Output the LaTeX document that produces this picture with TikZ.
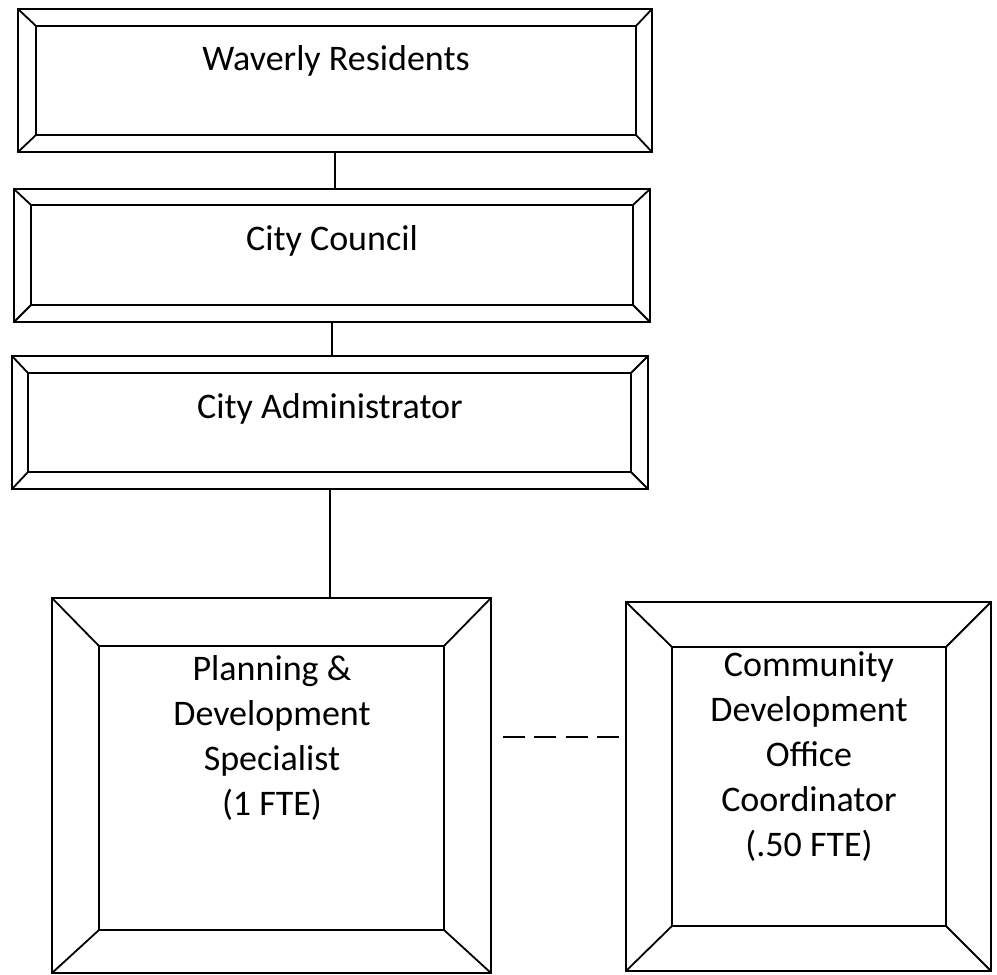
\documentclass[tikz,border=0pt]{standalone}
\usepackage{fontspec}
\setmainfont{Carlito}
\begin{document}
\begin{tikzpicture}[x=1pt,y=-1pt,
  outer/.style={draw, line width=2.4pt, anchor=north west, inner sep=0pt, outer sep=0pt},
  inner/.style={draw, line width=1.8pt, anchor=north west, inner sep=0pt, outer sep=0pt},
  bevel/.style={line width=1.8pt},
  lbl/.style={font=\fontsize{36}{45}\selectfont, align=center, anchor=north}]
  \useasboundingbox (0,0) rectangle (997,975);
  % Waverly Residents
  \node[outer, minimum width=634pt, minimum height=143pt] (res) at (18,9) {};
  \node[inner, minimum width=600pt, minimum height=109pt] (res-in) at (36,26) {};
  \node[lbl] (res-t) at (336,42) {Waverly Residents};
  % City Council
  \node[outer, minimum width=636pt, minimum height=133pt] (cou) at (14,189) {};
  \node[inner, minimum width=602pt, minimum height=100pt] (cou-in) at (31,205) {};
  \node[lbl] (cou-t) at (332,222) {City Council};
  % City Administrator
  \node[outer, minimum width=636pt, minimum height=133pt] (adm) at (12,356) {};
  \node[inner, minimum width=603pt, minimum height=99pt] (adm-in) at (28,373) {};
  \node[lbl] (adm-t) at (330,390) {City Administrator};
  % Planning & Development Specialist
  \node[outer, minimum width=439pt, minimum height=375pt] (pds) at (52,598) {};
  \node[inner, minimum width=345pt, minimum height=284pt] (pds-in) at (99,646) {};
  \node[lbl] (pds-t) at (272,652) {Planning \&\\Development\\Specialist\\(1 FTE)};
  % Community Development Office Coordinator
  \node[outer, minimum width=365pt, minimum height=369pt] (cdo) at (626,602) {};
  \node[inner, minimum width=274pt, minimum height=279pt] (cdo-in) at (672,647) {};
  \node[lbl] (cdo-t) at (809,648) {Community\\Development\\Office\\Coordinator\\(.50 FTE)};
  % bevel corners
  \foreach \b in {res,cou,adm,pds,cdo}
    \foreach \c in {north west,north east,south west,south east}
      \draw[bevel] (\b.\c) -- (\b-in.\c);
  % connectors
  \draw[line width=2.4pt] (res.south) -- (res.south |- cou.north);
  \draw[line width=2.4pt] (cou.south) -- (cou.south |- adm.north);
  \draw[line width=2.4pt] (adm.south) -- (adm.south |- pds.north);
  \coordinate (dash-a) at (503,737);
  \coordinate (dash-b) at (619,737);
  \draw[line width=1.8pt, dash pattern=on 22pt off 9.3pt] (dash-a) -- (dash-b);
\end{tikzpicture}
\end{document}
